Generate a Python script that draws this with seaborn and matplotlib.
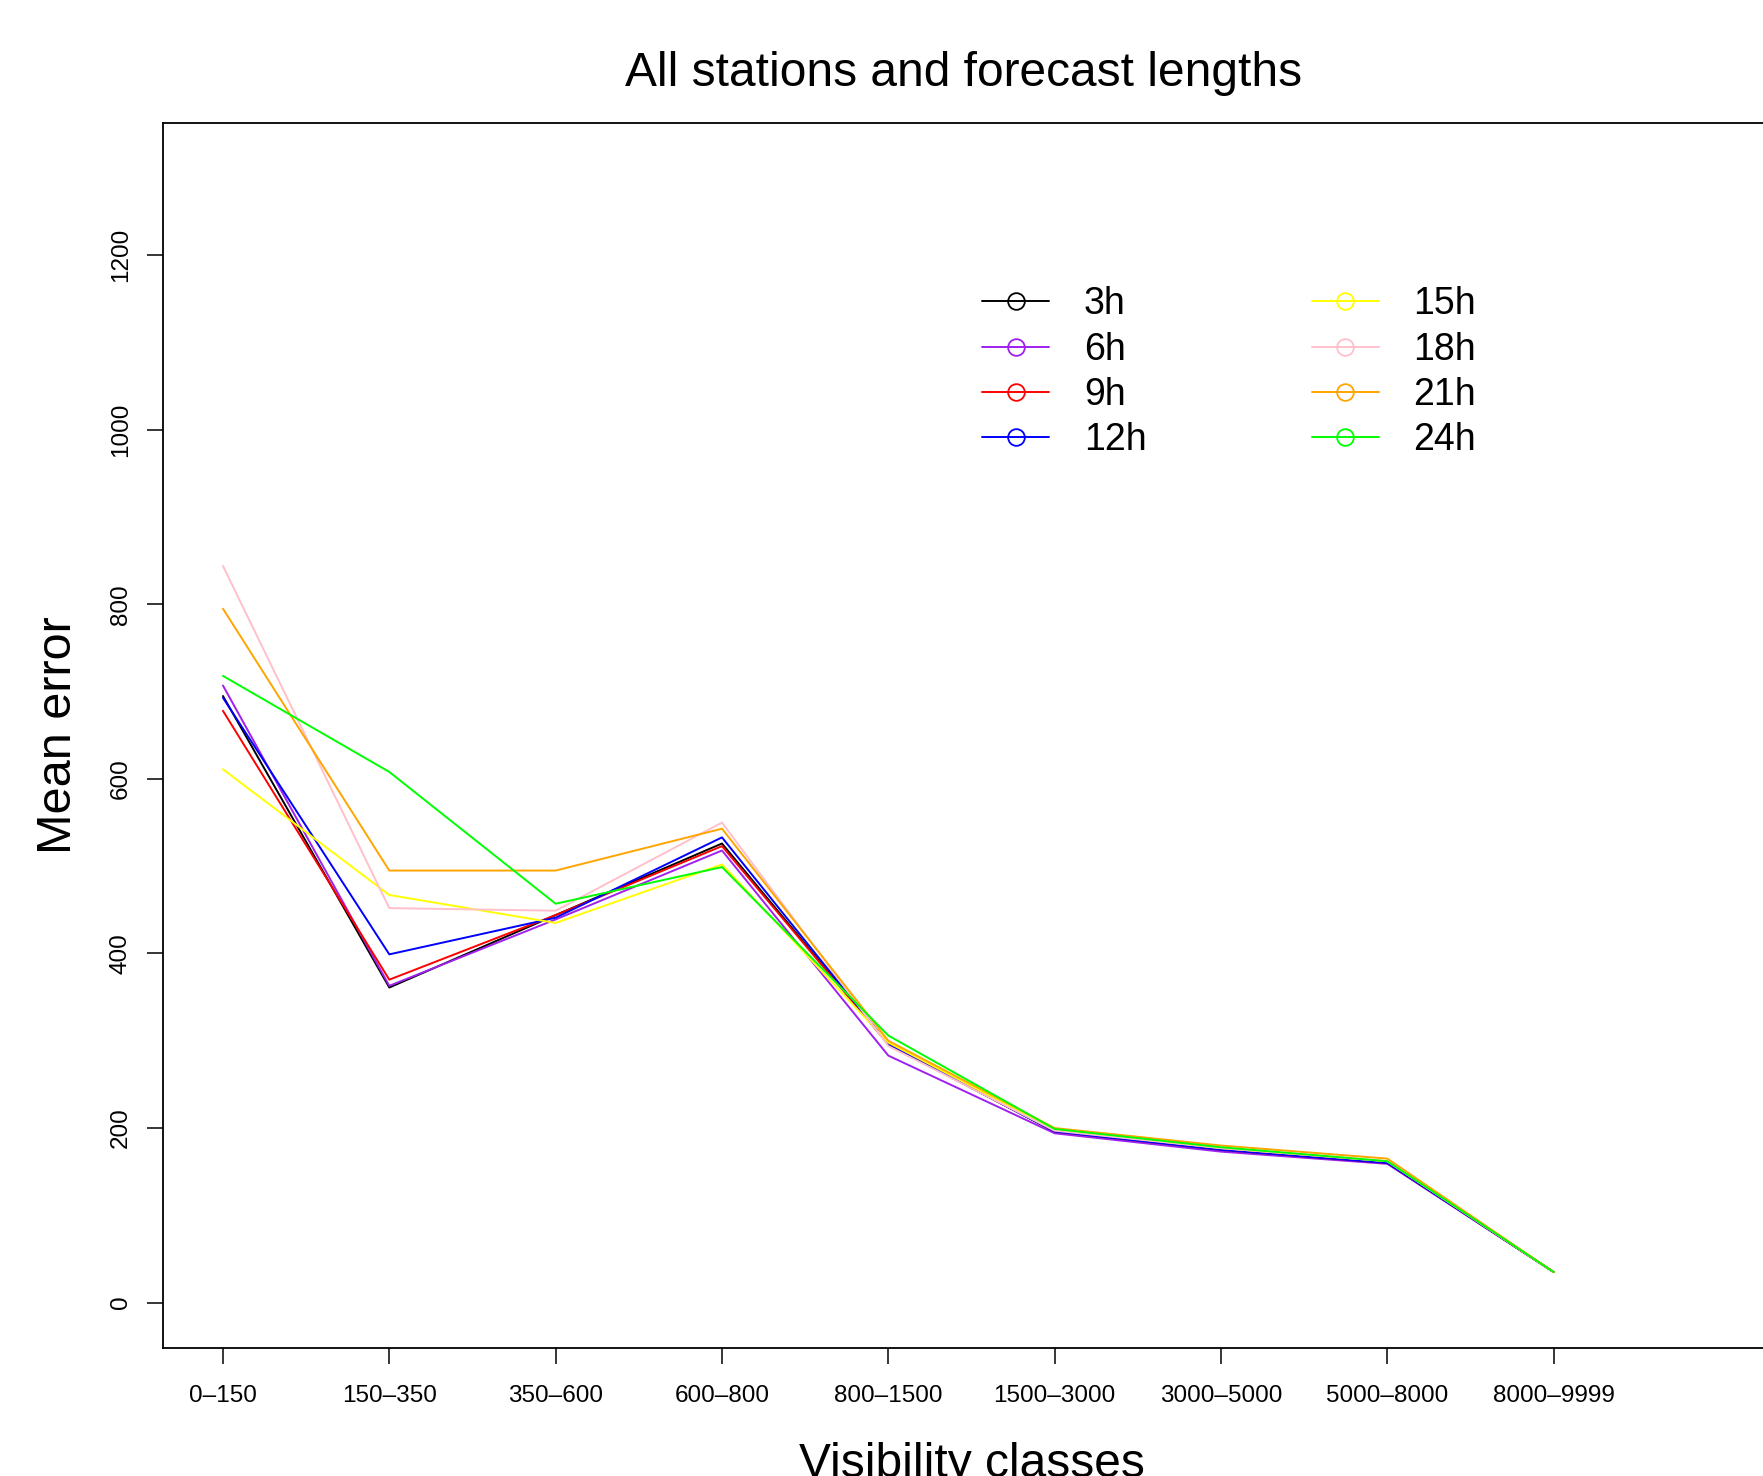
import pandas as pd
import matplotlib.pyplot as plt
import seaborn as sns
from matplotlib.lines import Line2D

# ======================
# Datos
# ======================
clases = ["0–150", "150–350", "350–600", "600–800", "800–1500",
          "1500–3000", "3000–5000", "5000–8000", "8000–9999"]
horizontes = ["3h", "6h", "9h", "12h", "15h", "18h", "21h", "24h"]
colores = ["#000000", "#A020F0", "#FF0000", "#0000FF",
           "#FFFF00", "#FFC0CB", "#FFA500", "#00FF00"]

err_3h = [695, 361, 444, 526, 296, 196, 176, 161, 35]
err_6h = [707, 363, 439, 518, 283, 194, 173, 159, 35]
err_9h = [678, 370, 444, 523, 296, 196, 175, 160, 35]
err_12h = [693, 399, 441, 533, 296, 196, 175, 160, 35]
err_15h = [611, 467, 435, 502, 298, 198, 177, 162, 35]
err_18h = [844, 452, 449, 550, 294, 197, 177, 162, 35]
err_21h = [795, 495, 495, 543, 300, 200, 180, 165, 35]
err_24h = [718, 608, 457, 499, 306, 199, 178, 162, 35]

series = [err_3h, err_6h, err_9h, err_12h, err_15h, err_18h, err_21h, err_24h]

df = pd.concat([
    pd.DataFrame({"clase": clases, "error": vals, "horizonte": h})
    for h, vals in zip(horizontes, series)
])

# ======================
# Gráfico
# ======================
sns.set_style("white")
plt.rcParams["font.family"] = ["Liberation Sans", "DejaVu Sans"]
plt.rcParams["text.color"] = "black"
plt.rcParams["axes.labelcolor"] = "black"
plt.rcParams["xtick.color"] = "black"
plt.rcParams["ytick.color"] = "black"

fig = plt.figure(figsize=(17.63, 14.76), dpi=100)
ax = fig.add_axes([0.0925, 0.0867, 0.9171, 0.8303])

sns.lineplot(data=df, x="clase", y="error", hue="horizonte",
             hue_order=horizontes, palette=colores, sort=False,
             linewidth=1.4, legend=False, ax=ax)

ax.set_xlim(-0.36, 9.36)
ax.set_ylim(-52, 1352)
ax.set_yticks(range(0, 1201, 200))
ax.set_xticks(range(len(clases)))
ax.set_xticklabels(clases, fontsize=17.5)
for lab in ax.get_yticklabels():
    lab.set_rotation(90)
    lab.set_verticalalignment("center")
    lab.set_fontsize(17.5)

ax.tick_params(axis="both", direction="out", length=11.5, width=1.1,
               color="black", labelcolor="black", bottom=True, left=True)
ax.tick_params(axis="x", pad=15)
ax.tick_params(axis="y", pad=11)
for s in ax.spines.values():
    s.set_color("black")
    s.set_linewidth(1.3)

ax.set_title("All stations and forecast lengths", fontsize=34.5, pad=26, x=0.495)
ax.set_xlabel("Visibility classes", fontsize=34.5, labelpad=25)
ax.set_ylabel("Mean error", fontsize=35, labelpad=21)

handles = [Line2D([0], [0], color=c, lw=1.4, marker="o", markersize=12,
                  markerfacecolor="none", markeredgecolor=c, markeredgewidth=1.3)
           for c in colores]
fig.legend(handles, horizontes, ncol=2, loc="upper left",
           bbox_to_anchor=(0.557, 0.806), frameon=False, fontsize=27,
           handlelength=1.79, handletextpad=0.93, columnspacing=4.4,
           labelspacing=0.25, borderpad=0, borderaxespad=0)

plt.savefig("out.png", dpi=100)
